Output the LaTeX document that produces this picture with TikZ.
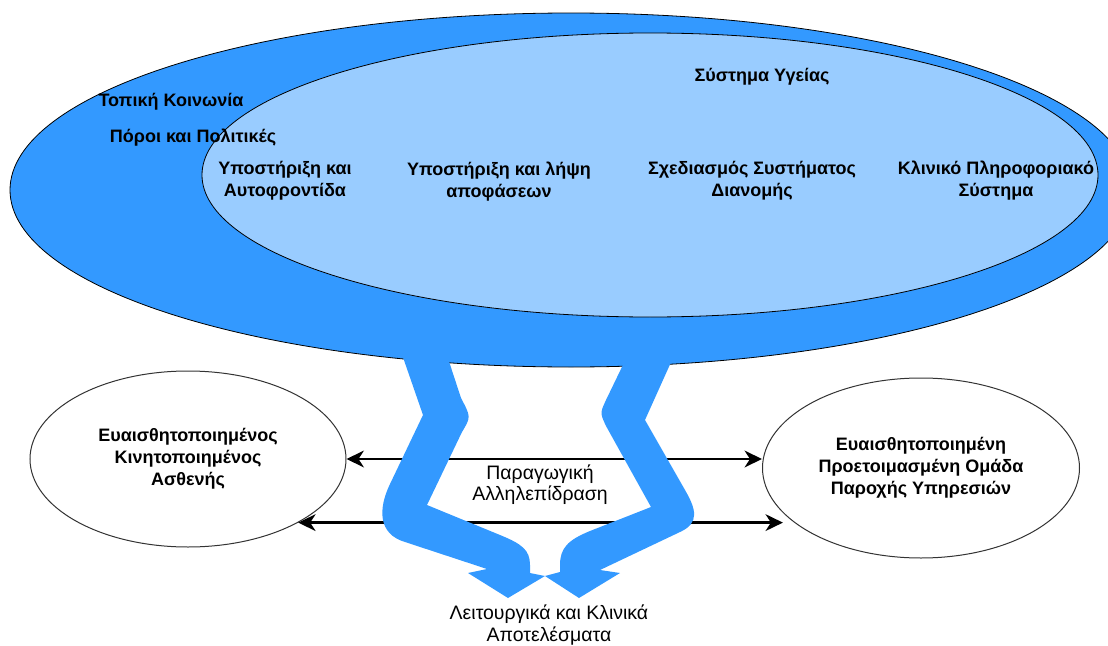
\documentclass[tikz,border=0pt]{standalone}
\usepackage{fontspec}
\setmainfont{Liberation Sans}
\usetikzlibrary{shapes.geometric,arrows.meta}
\definecolor{dblue}{HTML}{3399FF}
\definecolor{lblue}{HTML}{99CCFF}
\begin{document}
\begin{tikzpicture}[x=0.75pt,y=-0.75pt,
  lbl/.style={font=\fontsize{14.6}{16}\selectfont, align=center, inner sep=0pt},
  blbl/.style={align=center, inner sep=0pt, font=\fontsize{13.5}{16.5}\selectfont\bfseries},
  ell/.style={ellipse, draw=black!80, line width=0.75pt, fill=white, inner sep=0pt, align=center, font=\fontsize{13.5}{16.5}\selectfont\bfseries},
  dbl/.style={<->, line width=2pt, >={Stealth[length=13pt,width=12.5pt,inset=4pt]}},
  flow/.style={fill=dblue, draw=none}]
\useasboundingbox (0,0) rectangle (1108,646);
\clip (0,0) rectangle (1108,646);
% containers
\filldraw[fill=dblue, draw=black, line width=0.6pt] (571,190) ellipse [x radius=420.75pt, y radius=132.75pt];
\filldraw[fill=lblue, draw=black, line width=0.6pt] (650,175) ellipse [x radius=336pt, y radius=106.5pt];
% bottom nodes
\node[ell, minimum width=237pt, minimum height=132pt] (pat) at (188,459) {Ευαισθητοποιημένος\\Κινητοποιημένος\\Ασθενής};
\node[ell, minimum width=237.75pt, minimum height=135pt] (team) at (921,468) {Ευαισθητοποιημένη\\Προετοιμασμένη Ομάδα\\Παροχής Υπηρεσιών};
% interaction arrows
\draw[dbl] (pat.east) -- (pat.east -| team.west);
\draw[dbl] (pat.-30) -- (pat.-30 -| team.-162);
% flow arrows
\fill[flow] (397,340) -- (423,415) -- (390,484) .. controls (378,509) and (378,534) .. (405,542) -- (487,569) -- (468,573) -- (508,598) -- (545,576) -- (530,573) -- (530,565) .. controls (530,550) and (522,544) .. (500,535) -- (427,505) -- (462,432) .. controls (471,417) .. (461,398) -- (442,340) -- cycle;
\fill[flow] (635,340) -- (606,400) .. controls (600,413) .. (606,426) -- (651,507) -- (590,531) .. controls (568,540) and (560,548) .. (560,565) -- (560,572) -- (545,576) -- (579,598) -- (620,573) -- (600,570) -- (680,532) .. controls (700,523) and (696,509) .. (685,490) -- (645,420) -- (681,340) -- cycle;
% labels
\node[blbl] (tk) at (171,102) {Τοπική Κοινωνία};
\node[blbl] (pp) at (193,138) {Πόροι και Πολιτικές};
\node[blbl] (sy) at (762,77) {Σύστημα Υγείας};
\node[blbl] (ua) at (285,181) {Υποστήριξη και\\Αυτοφροντίδα};
\node[blbl] (ul) at (499,182) {Υποστήριξη και λήψη\\αποφάσεων};
\node[blbl] (sd) at (752,181) {Σχεδιασμός Συστήματος\\Διανομής};
\node[blbl] (kp) at (996,181) {Κλινικό Πληροφοριακό\\Σύστημα};
\node[lbl] (pa) at (540,485) {Παραγωγική\\Αλληλεπίδραση};
\node[lbl] (la) at (549,625) {Λειτουργικά και Κλινικά\\Αποτελέσματα};
\end{tikzpicture}
\end{document}
